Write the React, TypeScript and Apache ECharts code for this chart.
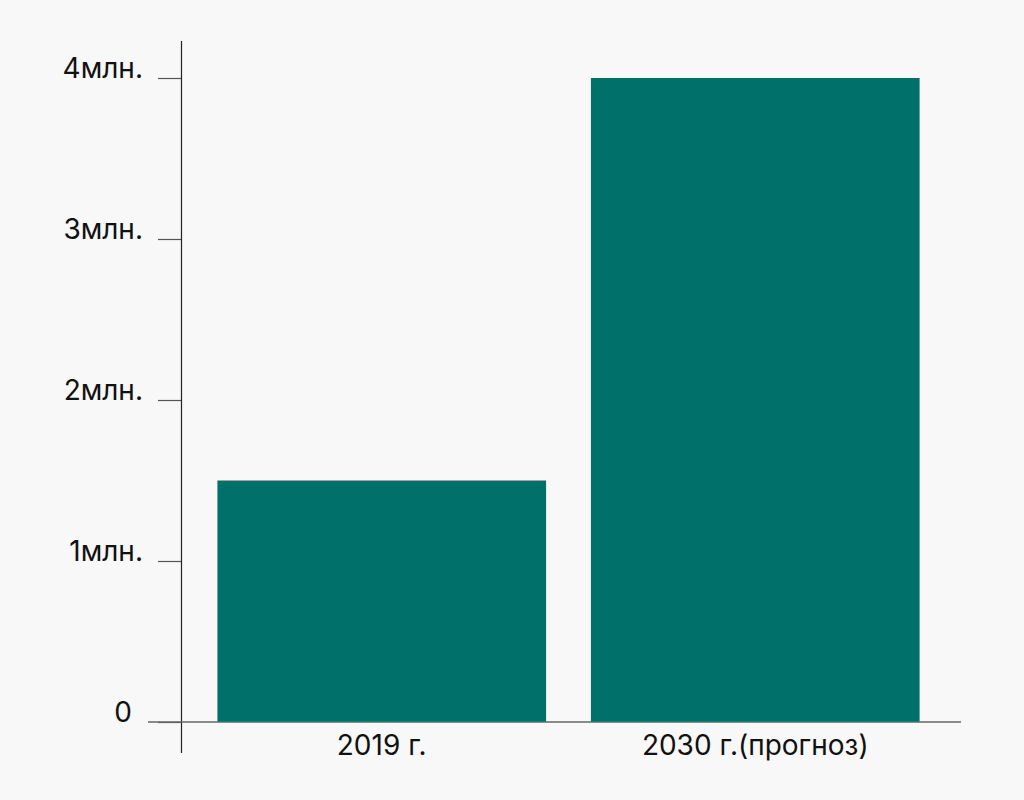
import React, { useEffect, useRef } from "react";
import * as echarts from "echarts";

const categories = ["2019 г.", "2030 г.(прогноз)"];
const values = [1.5, 4];
const yTickLabels: Record<number, string> = { 0: "0", 1: "1млн.", 2: "2млн.", 3: "3млн.", 4: "4млн." };

export default function App() {
  const ref = useRef<HTMLDivElement>(null);
  useEffect(() => {
    if (!ref.current) return;
    const chart = echarts.init(ref.current, undefined, { renderer: "svg" });
    const font = "Inter, 'Noto Sans', sans-serif";
    chart.setOption({
      animation: false,
      backgroundColor: "#f8f8f9",
      grid: { left: 195, right: 82, top: 78, bottom: 78, containLabel: false },
      xAxis: {
        type: "category",
        data: categories,
        axisLine: { show: false },
        axisTick: { show: false },
        axisLabel: { color: "#111", fontSize: 28, fontFamily: font, margin: 9 },
      },
      yAxis: {
        type: "value",
        min: 0,
        max: 4,
        interval: 1,
        offset: 14,
        splitLine: { show: false },
        axisLine: { show: false },
        axisTick: { show: true, length: 23, lineStyle: { color: "#555", width: 1.2 } },
        axisLabel: {
          color: "#111",
          fontSize: 28,
          fontFamily: font,
          margin: 38,
          verticalAlign: "middle",
          padding: [0, 0, 20, 0],
          formatter: (v: number) => (v === 0 ? "{z|0}" : yTickLabels[v] ?? ""),
          rich: { z: { fontSize: 28, fontFamily: font, color: "#111", padding: [0, 11, 0, 0] } },
        },
      },
      series: [
        {
          type: "bar",
          data: values,
          barCategoryGap: "12%",
          itemStyle: { color: "#00716a" },
        },
      ],
      graphic: [
        { type: "line", shape: { x1: 181.5, y1: 41, x2: 181.5, y2: 753 }, style: { stroke: "#222", lineWidth: 1.2 }, z: 10 },
        { type: "line", shape: { x1: 148, y1: 722, x2: 961, y2: 722 }, style: { stroke: "#666", lineWidth: 1.5 }, z: 10 },
      ],
    });
    return () => chart.dispose();
  }, []);
  return <div ref={ref} style={{ position: "fixed", left: 0, top: 0, width: 1024, height: 800 }} />;
}
